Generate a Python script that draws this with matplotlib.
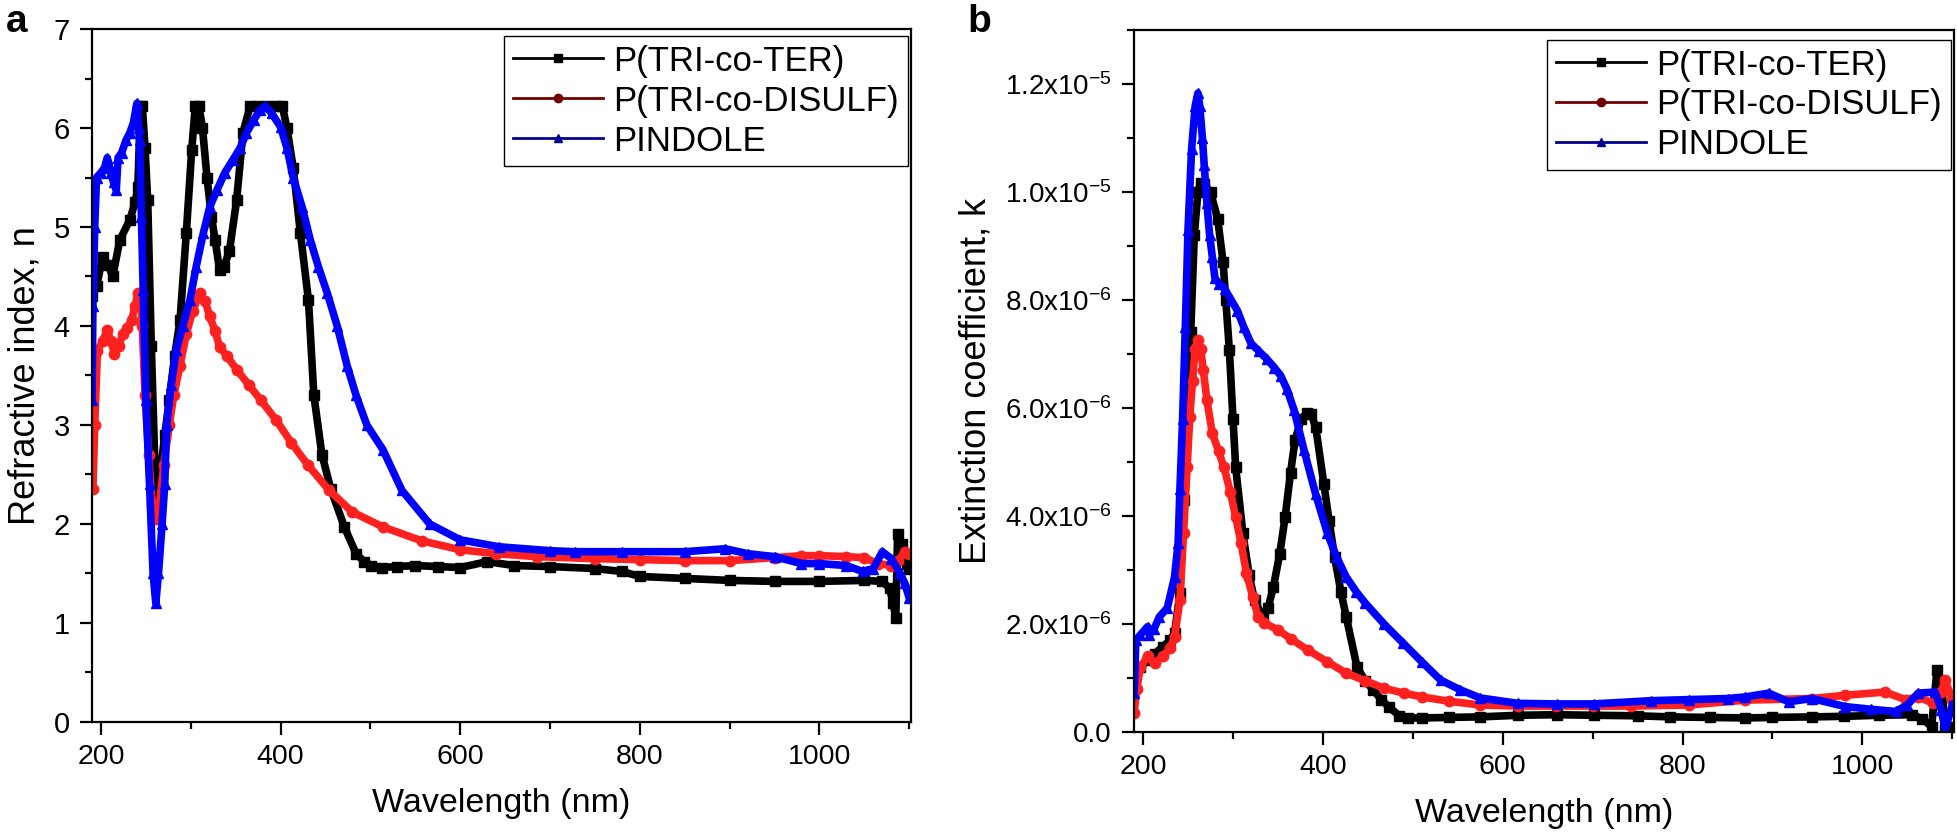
import numpy as np
import matplotlib
matplotlib.use('Agg')
import matplotlib.pyplot as plt
from matplotlib.lines import Line2D
from matplotlib.ticker import MultipleLocator, FuncFormatter

plt.rcParams['font.family'] = ['Liberation Sans', 'DejaVu Sans']
plt.rcParams['mathtext.fontset'] = 'custom'
plt.rcParams['mathtext.rm'] = 'Liberation Sans'
plt.rcParams['mathtext.default'] = 'regular'

# nomi delle serie
labels = ['P(TRI-co-TER)', 'P(TRI-co-DISULF)', 'PINDOLE']

# --- pannello a: indice di rifrazione n ---
wl_a_ter = [190, 195, 202, 208, 213, 221, 232, 238, 241, 244, 246, 249, 252, 256, 260, 262, 266, 271,
            276, 282, 288, 295, 301, 305, 309, 313, 318, 323, 327, 332, 337, 343, 351, 358, 366, 375,
            385, 395, 402, 407, 414, 422, 431, 437, 446, 456, 471, 484, 493, 501, 513, 530, 550, 575,
            600, 630, 660, 700, 750, 780, 800, 850, 900, 950, 1000, 1050, 1070, 1078, 1082, 1085,
            1087, 1092, 1097, 1100]
n_ter = [4.3, 4.4, 4.7, 4.62, 4.5, 4.87, 5.07, 5.25, 5.4, 6.22, 6.22, 5.8, 5.27, 3.8, 2.6, 2.25, 2.5, 2.9,
         3.25, 3.7, 4.06, 4.94, 5.78, 6.22, 6.22, 6.0, 5.5, 5.1, 4.87, 4.57, 4.6, 4.76, 5.27, 5.95, 6.22, 6.22,
         6.22, 6.22, 6.22, 6.0, 5.6, 4.94, 4.26, 3.3, 2.7, 2.35, 1.97, 1.7, 1.62, 1.58, 1.56, 1.57, 1.58, 1.57,
         1.56, 1.62, 1.58, 1.57, 1.55, 1.52, 1.47, 1.45, 1.43, 1.42, 1.42, 1.43, 1.42, 1.35, 1.2, 1.05,
         1.9, 1.8, 1.6, 1.55]

wl_a_dis = [191, 193, 196, 202, 207, 211, 215, 220, 224, 229, 234, 238, 241, 244, 246, 249, 253, 257, 261,
            265, 270, 276, 281, 288, 295, 302, 310, 316, 321, 327, 332, 340, 351, 365, 378, 395, 412, 430,
            454, 480, 514, 557, 600, 640, 685, 750, 800, 850, 900, 950, 980, 1000, 1030, 1050, 1065, 1080,
            1088, 1095, 1100]
n_dis = [2.35, 3.0, 3.75, 3.85, 3.96, 3.85, 3.72, 3.8, 3.92, 3.98, 4.06, 4.2, 4.33, 4.3, 4.0, 3.3, 2.7, 2.2, 2.05,
         2.2, 2.6, 3.0, 3.3, 3.6, 3.92, 4.15, 4.33, 4.25, 4.1, 3.95, 3.79, 3.7, 3.56, 3.4, 3.25, 3.05, 2.82, 2.6,
         2.34, 2.12, 1.97, 1.83, 1.74, 1.7, 1.67, 1.65, 1.64, 1.63, 1.63, 1.66, 1.68, 1.68, 1.67, 1.66, 1.6, 1.58,
         1.63, 1.72, 1.7]

wl_a_pin = [190, 191, 193, 195, 200, 204, 207, 211, 214, 217, 219, 223, 228, 232, 236, 240, 242, 243, 245,
            247, 250, 254, 258, 261, 264, 268, 271, 273, 278, 284, 291, 299, 306, 314, 321, 329, 338, 347,
            355, 362, 370, 377, 383, 390, 400, 407, 414, 424, 433, 442, 452, 463, 474, 484, 496, 514, 535,
            566, 600, 643, 700, 728, 780, 850, 895, 920, 950, 980, 1000, 1030, 1048, 1060, 1070, 1080,
            1090, 1095, 1100]
n_pin = [3.25, 4.2, 5.0, 5.5, 5.55, 5.6, 5.7, 5.55, 5.45, 5.37, 5.7, 5.75, 5.88, 5.95, 6.05, 6.25, 6.0, 5.88, 5.1,
         4.36, 3.25, 2.4, 1.5, 1.2, 1.5, 2.0, 2.4, 3.0, 3.4, 3.76, 4.0, 4.26, 4.6, 4.94, 5.2, 5.37, 5.55, 5.68,
         5.8, 5.95, 6.08, 6.18, 6.22, 6.15, 6.01, 5.8, 5.5, 5.2, 4.87, 4.6, 4.33, 4.0, 3.6, 3.3, 3.0, 2.75, 2.34,
         2.0, 1.84, 1.77, 1.73, 1.72, 1.72, 1.72, 1.75, 1.7, 1.67, 1.6, 1.6, 1.58, 1.52, 1.55, 1.72, 1.65,
         1.5, 1.4, 1.25]

# --- pannello b: coefficiente di estinzione k (unita' 1e-6) ---
wl_b_ter = [190, 197, 205, 213, 222, 230, 235, 241, 245, 250, 253, 257, 261, 264, 268, 275, 283, 289, 292,
            296, 300, 303, 311, 318, 324, 333, 339, 345, 352, 358, 364, 369, 376, 382, 387, 392, 401, 407,
            413, 420, 426, 438, 447, 456, 465, 473, 485, 495, 510, 540, 575, 617, 660, 701, 750, 786, 830,
            870, 900, 944, 980, 1018, 1055, 1066, 1077, 1083, 1088, 1092, 1100]
k_ter = [1.02, 1.2, 1.33, 1.45, 1.58, 1.7, 1.83, 2.57, 4.3, 6.4, 7.4, 9.2, 10.0, 10.17, 10.15, 10.0, 9.5, 8.7, 8.0,
         7.07, 5.8, 4.9, 3.68, 2.9, 2.44, 2.13, 2.3, 2.69, 3.3, 3.98, 4.8, 5.4, 5.8, 5.9, 5.88, 5.65, 4.6, 3.9,
         3.24, 2.6, 2.13, 1.2, 0.95, 0.78, 0.6, 0.47, 0.3, 0.26, 0.26, 0.27, 0.28, 0.31, 0.32, 0.31, 0.3, 0.28,
         0.27, 0.26, 0.27, 0.28, 0.29, 0.31, 0.32, 0.25, 0.1, 1.15, 0.95, 0.05, 0.1]

wl_b_dis = [190, 193, 197, 205, 213, 222, 230, 235, 241, 245, 249, 252, 255, 258, 261, 264, 267, 271, 277,
            284, 290, 297, 303, 309, 315, 322, 328, 335, 350, 365, 383, 405, 426, 447, 468, 490, 510, 540,
            575, 617, 659, 700, 743, 807, 870, 944, 981, 1025, 1048, 1062, 1079, 1088, 1092, 1100]
k_dis = [0.35, 0.8, 1.2, 1.4, 1.27, 1.4, 1.55, 1.76, 2.44, 3.68, 4.9, 5.84, 6.5, 7.1, 7.26, 7.1, 6.7, 6.15, 5.53,
         5.2, 4.9, 4.45, 3.98, 3.5, 2.94, 2.5, 2.13, 2.02, 1.89, 1.72, 1.52, 1.3, 1.09, 0.95, 0.81, 0.72, 0.65,
         0.57, 0.5, 0.48, 0.48, 0.48, 0.48, 0.5, 0.59, 0.62, 0.68, 0.74, 0.6, 0.65, 0.53, 0.75, 0.96, 0.6]

wl_b_pin = [190, 192, 197, 205, 207, 212, 218, 227, 235, 239, 241, 244, 247, 250, 254, 258, 261, 263, 266,
            268, 271, 274, 277, 280, 285, 291, 298, 305, 312, 320, 329, 338, 346, 353, 360, 368, 379, 392,
            405, 415, 426, 437, 447, 468, 489, 510, 531, 553, 575, 617, 660, 701, 765, 807, 850, 870, 896,
            918, 944, 981, 1010, 1037, 1050, 1062, 1081, 1088, 1092, 1100]
k_pin = [0.72, 1.7, 1.8, 1.95, 1.8, 1.9, 2.13, 2.3, 2.87, 3.5, 4.5, 5.8, 7.5, 9.3, 10.8, 11.6, 11.83, 11.6, 11.0,
         10.5, 9.8, 9.2, 8.8, 8.4, 8.3, 8.2, 8.0, 7.8, 7.5, 7.2, 7.05, 6.9, 6.75, 6.6, 6.35, 5.96, 5.22, 4.4,
         3.68, 3.25, 2.87, 2.6, 2.39, 2.0, 1.65, 1.3, 0.96, 0.78, 0.63, 0.53, 0.52, 0.52, 0.58, 0.6, 0.62, 0.65,
         0.72, 0.56, 0.62, 0.47, 0.42, 0.38, 0.5, 0.72, 0.74, 0.4, 0.04, 0.5]

# stile: colore del simbolo, colore della linea in legenda, marcatore
sym_col = ['black', '#ff2020', '#0000ff']
line_col = ['black', '#700000', '#000090']
markers = ['s', 'o', '^']

fig = plt.figure(figsize=(19.58, 8.36), dpi=100)
ax_a = fig.add_axes([0.047, 0.1364, 0.4183, 0.8289])
ax_b = fig.add_axes([0.5792, 0.1244, 0.4188, 0.8397])

series_a = [(wl_a_ter, n_ter), (wl_a_dis, n_dis), (wl_a_pin, n_pin)]
series_b = [(wl_b_ter, np.array(k_ter) * 1e-6), (wl_b_dis, np.array(k_dis) * 1e-6),
            (wl_b_pin, np.array(k_pin) * 1e-6)]

for ax, series, leg_top in [(ax_a, series_a, 0.99), (ax_b, series_b, 0.986)]:
    for (x, y), c, m in zip(series, sym_col, markers):
        ax.plot(x, y, color=c, lw=5.5, marker=m, ms=7.5, mec=c, mfc=c)
    ax.set_xlim(190, 1102)
    ax.xaxis.set_major_locator(MultipleLocator(200))
    ax.xaxis.set_minor_locator(MultipleLocator(100))
    ax.tick_params(which='both', direction='out', width=1.6, top=False, right=False)
    ax.tick_params(which='major', length=9, pad=7)
    ax.tick_params(which='minor', length=5)
    ax.tick_params(axis='x', labelsize=20.5)
    for s in ax.spines.values():
        s.set_linewidth(1.6)
    ax.set_xlabel('Wavelength (nm)', fontsize=24.5, labelpad=13)
    handles = [Line2D([0], [0], color=lc, lw=2, marker=m, ms=6, mfc=lc, mec=lc)
               for lc, m in zip(line_col, markers)]
    leg = ax.legend(handles, labels, loc='upper right', bbox_to_anchor=(0.996, leg_top), fontsize=25,
                    frameon=True, fancybox=False, edgecolor='black', framealpha=1,
                    handlelength=2.6, handletextpad=0.3, labelspacing=0.2, borderpad=0.25,
                    borderaxespad=0)
    leg.get_frame().set_linewidth(1.0)

ax_a.set_ylim(0, 7)
ax_a.yaxis.set_major_locator(MultipleLocator(1))
ax_a.yaxis.set_minor_locator(MultipleLocator(0.5))
ax_a.tick_params(axis='y', labelsize=21)
ax_a.set_ylabel('Refractive index, n', fontsize=26, labelpad=8)


def k_fmt(v, pos):
    if abs(v) < 1e-12:
        return '0.0'
    e = int(np.floor(np.log10(abs(v)) + 1e-9))
    return f'{v / 10**e:.1f}x10$^{{{e}}}$'


ax_b.set_ylim(0, 1.3e-5)
ax_b.yaxis.set_major_locator(MultipleLocator(2e-6))
ax_b.yaxis.set_minor_locator(MultipleLocator(1e-6))
ax_b.yaxis.set_major_formatter(FuncFormatter(k_fmt))
ax_b.tick_params(axis='y', labelsize=20)
ax_b.set_ylabel('Extinction coefficient, k', fontsize=26, labelpad=8)

fig.text(0.003, 0.995, 'a', fontsize=28, fontweight='bold', va='top', ha='left')
fig.text(0.494, 0.995, 'b', fontsize=28, fontweight='bold', va='top', ha='left')

fig.savefig('out.png', dpi=100)
